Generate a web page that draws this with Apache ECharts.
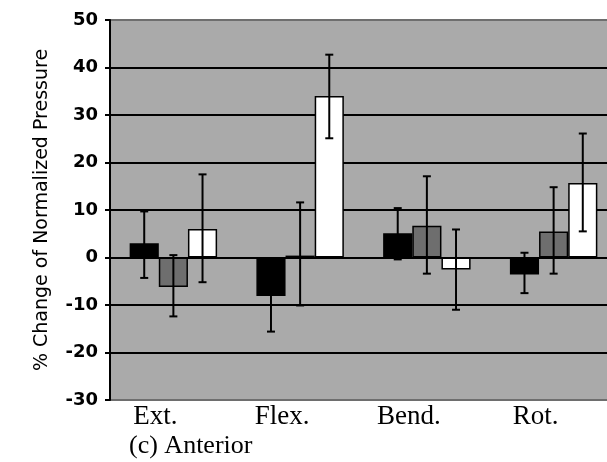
<!DOCTYPE html>
<html>
<head>
<meta charset="utf-8">
<script src="https://cdn.jsdelivr.net/npm/echarts@6/dist/echarts.min.js"></script>
<style>
  html, body { margin: 0; padding: 0; background: #fff; overflow: hidden; }
  #main { width: 617px; height: 462px; }
</style>
</head>
<body>
<div id="main"></div>
<script>
var categories = ['Ext.', 'Flex.', 'Bend.', 'Rot.'];

// bar means (% change), one array per series
var blackVals = [3.0, -8.1, 5.1, -3.6];
var grayVals = [-6.2, 0.4, 6.7, 5.5];
var whiteVals = [6.0, 34.0, -2.5, 15.7];

// error bar ends
var blackLow = [-4.3, -15.6, -0.4, -7.5];
var blackHigh = [9.7, -0.6, 10.4, 1.0];
var grayLow = [-12.4, -10.1, -3.4, -3.4];
var grayHigh = [0.5, 11.6, 17.1, 14.8];
var whiteLow = [-5.2, 25.1, -11.0, 5.5];
var whiteHigh = [17.5, 42.7, 5.9, 26.1];

var yTicks = [-30, -20, -10, 0, 10, 20, 30, 40, 50];

var barColors = ['#000000', '#6e6e6e', '#ffffff'];
var gapRatio = 0.31;

var errData = [];
[[blackLow, blackHigh], [grayLow, grayHigh], [whiteLow, whiteHigh]].forEach(function (pair, s) {
  categories.forEach(function (c, i) {
    errData.push([i, s, pair[0][i], pair[1][i]]);
  });
});

function renderError(params, api) {
  var ci = api.value(0);
  var s = api.value(1);
  var lo = api.coord([ci, api.value(2)]);
  var hi = api.coord([ci, api.value(3)]);
  var band = api.size([1, 0])[0];
  var barW = band * (1 - gapRatio) / 3;
  var x = lo[0] + (s - 1) * barW;
  var cap = 4;
  var style = { stroke: '#000', lineWidth: 2 };
  return {
    type: 'group',
    children: [
      { type: 'line', shape: { x1: x, y1: hi[1], x2: x, y2: lo[1] }, style: style },
      { type: 'line', shape: { x1: x - cap, y1: hi[1], x2: x + cap, y2: hi[1] }, style: style },
      { type: 'line', shape: { x1: x - cap, y1: lo[1], x2: x + cap, y2: lo[1] }, style: style }
    ]
  };
}

function barSeries(vals, color) {
  return {
    type: 'bar',
    data: vals,
    barGap: '0%',
    barCategoryGap: (gapRatio * 100) + '%',
    itemStyle: { color: color, borderColor: '#000', borderWidth: 1.5 },
    silent: true
  };
}

var option = {
  animation: false,
  backgroundColor: '#fff',
  title: {
    text: '(c) Anterior',
    left: 124,
    top: 428,
    textStyle: { fontFamily: 'Liberation Serif', fontWeight: 'normal', fontSize: 26, color: '#000' }
  },
  grid: {
    left: 110,
    top: 20,
    right: 0,
    bottom: 62,
    show: true,
    backgroundColor: '#aaaaaa',
    borderColor: '#6e6e6e',
    borderWidth: 2
  },
  xAxis: {
    type: 'category',
    data: categories,
    axisLine: { show: false },
    axisTick: { show: false },
    axisLabel: {
      margin: 3,
      fontFamily: 'Liberation Serif',
      fontSize: 27,
      color: '#000',
      padding: [0, 36, 0, 0]
    }
  },
  yAxis: {
    type: 'value',
    min: yTicks[0],
    max: yTicks[yTicks.length - 1],
    interval: 10,
    name: '% Change of Normalized Pressure',
    nameLocation: 'middle',
    nameGap: 58,
    nameTextStyle: { fontFamily: 'DejaVu Sans', fontSize: 19, color: '#000' },
    axisLine: { show: true, lineStyle: { color: '#000', width: 2 } },
    axisTick: { show: true, length: 5, lineStyle: { color: '#000', width: 2 } },
    axisLabel: { margin: 12, fontFamily: 'DejaVu Sans', fontWeight: 'bold', fontSize: 18, color: '#000' },
    splitLine: { show: true, showMinLine: false, showMaxLine: false, lineStyle: { color: '#000', width: 2 } }
  },
  series: [
    barSeries(blackVals, barColors[0]),
    barSeries(grayVals, barColors[1]),
    barSeries(whiteVals, barColors[2]),
    {
      type: 'custom',
      renderItem: renderError,
      data: errData,
      encode: { x: 0, y: [2, 3] },
      z: 10,
      silent: true
    }
  ]
};

var myChart = echarts.init(document.getElementById('main'));
myChart.setOption(option);
</script>
</body>
</html>
